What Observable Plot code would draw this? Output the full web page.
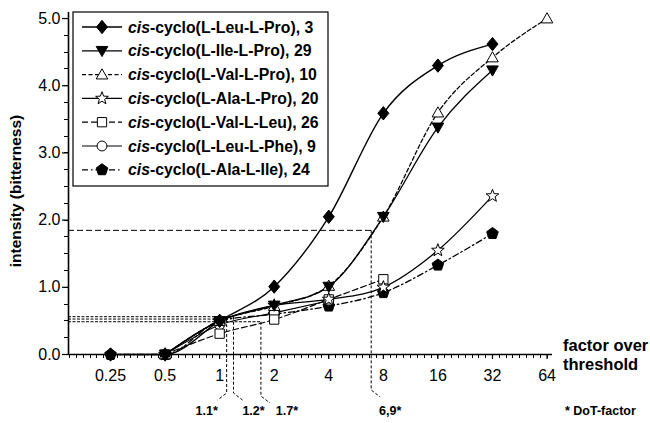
<!DOCTYPE html>
<html><head><meta charset="utf-8">
<script src="https://cdn.jsdelivr.net/npm/d3@7"></script>
<script src="https://cdn.jsdelivr.net/npm/@observablehq/plot@0.6"></script>
<style>
body{margin:0;background:#fff;}
#chart{position:relative;width:650px;height:423px;}
svg{font-family:"Liberation Sans",Arial,Helvetica,sans-serif;}
</style></head><body><div id="chart"></div>
<script>
// ---- data ----
const factors = [0.25, 0.5, 1, 2, 4, 8, 16, 32, 64];
const seriesNames = [
  ["cis", "-cyclo(L-Leu-L-Pro), 3"],
  ["cis", "-cyclo(L-Ile-L-Pro), 29"],
  ["cis", "-cyclo(L-Val-L-Pro), 10"],
  ["cis", "-cyclo(L-Ala-L-Pro), 20"],
  ["cis", "-cyclo(L-Val-L-Leu), 26"],
  ["cis", "-cyclo(L-Leu-L-Phe), 9"],
  ["cis", "-cyclo(L-Ala-L-Ile), 24"]
];
const leuPro = [0, 0, 0.50, 1.01, 2.05, 3.59, 4.30, 4.62, null];
const ilePro = [null, 0, 0.50, 0.73, 1.01, 2.05, 3.38, 4.23, null];
const valPro = [null, 0, 0.50, 0.72, 1.02, 2.05, 3.60, 4.42, 5.00];
const alaPro = [null, 0, 0.50, 0.73, 0.82, 1.00, 1.55, 2.36, null];
const valLeu = [null, 0, 0.31, 0.52, 0.82, 1.12, null, null, null];
const leuPhe = [null, 0, 0.44, 0.62, 0.80, null, null, null, null];
const alaIle = [0, 0, 0.50, 0.60, 0.72, 0.92, 1.33, 1.80, null];
const seriesValues = [leuPro, ilePro, valPro, alaPro, valLeu, leuPhe, alaIle];

const xTicks = [0.25, 0.5, 1, 2, 4, 8, 16, 32, 64];
const xTickLabels = ["0.25", "0.5", "1", "2", "4", "8", "16", "32", "64"];
const yTicks = [0, 1, 2, 3, 4, 5];
const yTickLabels = ["0.0", "1.0", "2.0", "3.0", "4.0", "5.0"];

// DoT-factor annotations
const dotFactor = [1.1, 1.2, 1.7, 6.9];
const dotIntensity = [0.52, 0.555, 0.48, 1.84];
const dotLabels = ["1.1*", "1.2*", "1.7*", "6,9*"];
const dotLeaderDir = [-1, 1, 1, 1];

// ---- symbols ----
const poly = (pts) => ({draw(ctx, size) {
  const r = Math.sqrt(size / Math.PI);
  pts.forEach(([a, b], i) => i ? ctx.lineTo(a * r, b * r) : ctx.moveTo(a * r, b * r));
  ctx.closePath();
}});
const starPts = d3.range(10).map(i => {
  const a = -Math.PI / 2 + i * Math.PI / 5, rr = i % 2 ? 0.48 : 1.15;
  return [rr * Math.cos(a), rr * Math.sin(a)];
});
const pentPts = d3.range(5).map(i => {
  const a = -Math.PI / 2 + i * 2 * Math.PI / 5;
  return [1.05 * Math.cos(a), 1.05 * Math.sin(a)];
});
const symDiamond = poly([[0, -1.15], [0.95, 0], [0, 1.15], [-0.95, 0]]);
const symDown = poly([[-1, -0.75], [1, -0.75], [0, 1]]);
const symUp = poly([[-1, 0.75], [1, 0.75], [0, -1]]);
const symStar = poly(starPts);
const symSquare = poly([[-0.8, -0.8], [0.8, -0.8], [0.8, 0.8], [-0.8, 0.8]]);
const symCircle = {draw(ctx, size) { const r = Math.sqrt(size / Math.PI) * 0.85; ctx.moveTo(r, 0); ctx.arc(0, 0, r, 0, 2 * Math.PI); }};
const symPent = poly(pentPts);

const styles = [
  {sym: symDiamond, fill: "black", dash: null, w: 1.4},
  {sym: symDown, fill: "black", dash: null, w: 1.3},
  {sym: symUp, fill: "white", dash: "4,2.5", w: 1.3},
  {sym: symStar, fill: "white", dash: null, w: 1.3},
  {sym: symSquare, fill: "white", dash: "6,3", w: 1.2},
  {sym: symCircle, fill: "white", dash: null, w: 1.1},
  {sym: symPent, fill: "black", dash: "6,3,1.5,3", w: 1.3}
];

const rows = [];
seriesValues.forEach((vals, k) => vals.forEach((v, i) => {
  if (v != null) rows.push({k, f: factors[i], v});
}));

const minorX = d3.range(-22, 49).map(i => 2 ** (i / 8)).filter(d => d > 0.147 && d < 68);
const minorY = d3.range(0, 21).map(i => i * 0.25);
const xDomain = [2 ** -2.77, 2 ** 6.1];

const marks = [];
styles.forEach((s, k) => {
  marks.push(Plot.line(rows.filter(r => r.k === k), {x: "f", y: "v", curve: "monotone-x", stroke: "black", strokeWidth: s.w, strokeDasharray: s.dash}));
});
[6, 5, 4, 3, 2, 1, 0].forEach(k => {
  const s = styles[k];
  marks.push(Plot.dot(rows.filter(r => r.k === k), {x: "f", y: "v", symbol: s.sym, r: 5.8, fill: s.fill, stroke: "black", strokeWidth: 1}));
});

const plot = Plot.plot({
  width: 650, height: 423,
  marginLeft: 68, marginRight: 98, marginTop: 12, marginBottom: 69,
  style: {fontFamily: '"Liberation Sans", Arial, sans-serif', color: "black", background: "white"},
  x: {type: "log", base: 2, domain: xDomain},
  y: {domain: [0, 5.09]},
  marks: [
    Plot.axisX(xTicks, {tickSize: 5, tickPadding: 10, tickFormat: d => xTickLabels[xTicks.indexOf(d)], fontSize: 16, label: null, strokeWidth: 1.2}),
    Plot.axisY(yTicks, {tickSize: 6, tickPadding: 2, tickFormat: d => yTickLabels[yTicks.indexOf(d)], fontSize: 16, label: null, strokeWidth: 1.2}),
    Plot.ruleY([0], {stroke: "black", strokeWidth: 1.6}),
    Plot.ruleX([xDomain[0]], {stroke: "black", strokeWidth: 1.6}),
    ...marks
  ]
});
document.getElementById("chart").appendChild(plot);

const svg = d3.select(plot);
const sx = plot.scale("x"), sy = plot.scale("y");
const x0 = sx.apply(xDomain[0]);
const yBase = sy.apply(0);

// minor ticks through the library's scales
const mt = svg.append("g").attr("stroke", "black").attr("stroke-width", 1);
minorX.forEach(f => {
  const px = Math.round(sx.apply(f)) + 0.5;
  mt.append("line").attr("x1", px).attr("x2", px).attr("y1", yBase).attr("y2", yBase + 4);
});
minorY.forEach(v => {
  const py = Math.round(sy.apply(v)) + 0.5;
  mt.append("line").attr("x1", x0 - 4).attr("x2", x0).attr("y1", py).attr("y2", py);
});

// DoT annotation leaders
const ann = svg.append("g").attr("fill", "none").attr("stroke", "black").attr("stroke-width", 1);
const bottoms = [393, 393, 396, 390];
const labelOffset = [-20, 20, 26, 19];
dotFactor.forEach((f, i) => {
  const px = sx.apply(f), py = sy.apply(dotIntensity[i]);
  ann.append("path")
    .attr("d", `M${x0},${py}H${px}`)
    .attr("stroke-dasharray", i === 3 ? "6,3" : "3,1.5");
  ann.append("path")
    .attr("d", `M${px},${py}V${bottoms[i]}l${dotLeaderDir[i] * 9},${7}`)
    .attr("stroke-dasharray", "3,2");
});
const annText = svg.append("g").attr("font-size", 12.5).attr("font-weight", "bold").attr("text-anchor", "middle");
dotFactor.forEach((f, i) => {
  const px = sx.apply(f);
  annText.append("text").attr("x", px + labelOffset[i]).attr("y", 415).text(dotLabels[i]);
});
svg.append("text").attr("x", 565).attr("y", 415).attr("text-anchor", "start").attr("font-size", 12.5).attr("font-weight", "bold").text("* DoT-factor");

// axis titles
svg.append("text").attr("transform", "translate(21,191) rotate(-90)").attr("text-anchor", "middle")
  .attr("font-size", 15.5).attr("font-weight", "bold").text("intensity (bitterness)");
const xt = svg.append("text").attr("font-size", 16.5).attr("font-weight", "bold").attr("text-anchor", "start");
xt.append("tspan").attr("x", 563).attr("y", 351).text("factor over");
xt.append("tspan").attr("x", 563).attr("y", 370).text("threshold");

// legend
const lg = svg.append("g").attr("text-anchor", "start");
lg.append("rect").attr("x", 73).attr("y", 12).attr("width", 255).attr("height", 174)
  .attr("fill", "white").attr("stroke", "black").attr("stroke-width", 1.2);
seriesNames.forEach((nm, k) => {
  const s = styles[k];
  const yy = 27 + 23.8 * k;
  lg.append("line").attr("x1", 82).attr("x2", 122).attr("y1", yy).attr("y2", yy)
    .attr("stroke", "black").attr("stroke-width", s.w).attr("stroke-dasharray", s.dash);
  lg.append("path").attr("transform", `translate(102,${yy})`)
    .attr("d", d3.symbol().type(s.sym).size(Math.PI * 5.8 * 5.8)())
    .attr("fill", s.fill).attr("stroke", "black").attr("stroke-width", 1);
  const t = lg.append("text").attr("x", 128).attr("y", yy + 5.5).attr("font-size", 15.8).attr("font-weight", "bold");
  t.append("tspan").attr("font-style", "italic").text(nm[0]);
  t.append("tspan").text(nm[1]);
});
</script></body></html>
